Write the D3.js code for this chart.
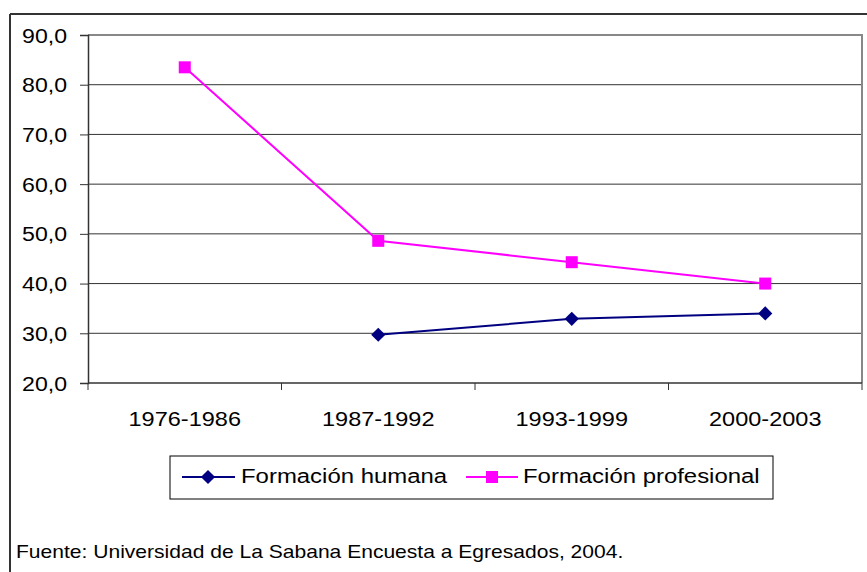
<!DOCTYPE html>
<html>
<head>
    <meta charset="utf-8">
    <title>Formación humana y profesional</title>
    <script src="https://d3js.org/d3.v7.min.js"></script>
    <style>
        html, body { margin: 0; padding: 0; background: #fff; }
        svg { display: block; font-family: "Liberation Sans", Arial, sans-serif; }
        .grid line { stroke: #333; stroke-width: 1px; }
        .tick-label { font-size: 21px; fill: #000; }
        .legend-label { font-size: 21px; fill: #000; }
        .source { font-size: 18px; fill: #000; }
    </style>
</head>
<body>
<svg width="867" height="572"></svg>
<script>
    // data
    let categories = ['1976-1986', '1987-1992', '1993-1999', '2000-2003'];
    let humana = [null, 29.7, 32.9, 34.0];
    let profesional = [83.5, 48.6, 44.3, 40.0];
    let yTicks = [20, 30, 40, 50, 60, 70, 80, 90];
    let seriesNames = ['Formación humana', 'Formación profesional'];
    let source = 'Fuente: Universidad de La Sabana Encuesta a Egresados, 2004.';

    let svg = d3.select('svg');
    let plot = {left: 88, right: 862, top: 35, bottom: 383};

    // text in the original is a bit wider than Arial, stretch it a little
    function label(parent, x, y, txt, cls, anchor, sx) {
        parent.append('text')
            .attr('class', cls)
            .attr('text-anchor', anchor)
            .attr('transform', `translate(${x},${y}) scale(${sx},1)`)
            .text(txt);
    }

    // outer frame (top and left edges visible)
    svg.append('line').attr('x1', 10).attr('x2', 867).attr('y1', 14).attr('y2', 14)
        .attr('stroke', '#333').attr('stroke-width', 2);
    svg.append('line').attr('x1', 10).attr('x2', 10).attr('y1', 14).attr('y2', 572)
        .attr('stroke', '#333').attr('stroke-width', 2);

    let x = d3.scaleBand().domain(categories).range([plot.left, plot.right]);
    let y = d3.scaleLinear().domain([20, 90]).range([plot.bottom, plot.top]);

    // gridlines
    svg.append('g').classed('grid', true)
        .selectAll('line')
        .data(yTicks.filter(d => d > 20 && d < 90))
        .join('line')
        .attr('x1', plot.left).attr('x2', plot.right)
        .attr('y1', d => y(d)).attr('y2', d => y(d));

    // plot area border (top and right gray)
    svg.append('line').attr('x1', plot.left).attr('x2', plot.right)
        .attr('y1', y(90)).attr('y2', y(90)).attr('stroke', '#888').attr('stroke-width', 2);
    svg.append('line').attr('x1', plot.right).attr('x2', plot.right)
        .attr('y1', y(90) - 1).attr('y2', plot.bottom).attr('stroke', '#888').attr('stroke-width', 2);

    // y axis
    let yAxis = svg.append('g')
        .attr('transform', `translate(${plot.left},0)`)
        .call(d3.axisLeft(y).tickValues(yTicks).tickSize(8).tickFormat(''));
    yAxis.select('.domain').attr('stroke', '#333').attr('stroke-width', 1.5);
    yAxis.selectAll('.tick line').attr('stroke', '#333');
    let fmt = d => d3.format('.1f')(d).replace('.', ',');
    let yLabels = svg.append('g');
    yTicks.forEach(t => label(yLabels, 67, y(t) + 7.5, fmt(t), 'tick-label', 'end', 1.1));

    // x axis: ticks at band boundaries
    let xAxisG = svg.append('g').attr('transform', `translate(0,${plot.bottom})`);
    xAxisG.append('line').attr('x1', plot.left).attr('x2', plot.right)
        .attr('stroke', '#333').attr('stroke-width', 1.5);
    let bounds = categories.map(c => x(c)).concat([plot.right]);
    xAxisG.selectAll('.xt').data(bounds).join('line').classed('xt', true)
        .attr('x1', d => d).attr('x2', d => d).attr('y1', 0).attr('y2', 7)
        .attr('stroke', '#333');
    categories.forEach(c => label(xAxisG, x(c) + x.bandwidth() / 2, 43, c, 'tick-label', 'middle', 1.12));

    let cx = (d, i) => x(categories[i]) + x.bandwidth() / 2;
    let line = d3.line().defined(d => d != null).x(cx).y(d => y(d));

    svg.append('path').datum(humana).attr('d', line)
        .attr('fill', 'none').attr('stroke', '#000080').attr('stroke-width', 2);
    svg.append('path').datum(profesional).attr('d', line)
        .attr('fill', 'none').attr('stroke', '#ff00ff').attr('stroke-width', 2);

    let diamond = d3.symbol().type(d3.symbolSquare).size(100);
    svg.selectAll('.m-h').data(humana.map((v, i) => ({v, i})).filter(d => d.v != null))
        .join('path').classed('m-h', true)
        .attr('d', diamond)
        .attr('transform', d => `translate(${cx(d.v, d.i)},${y(d.v)}) rotate(45)`)
        .attr('fill', '#000080');
    svg.selectAll('.m-p').data(profesional.map((v, i) => ({v, i})))
        .join('rect').classed('m-p', true)
        .attr('x', d => cx(d.v, d.i) - 6).attr('y', d => y(d.v) - 6)
        .attr('width', 12).attr('height', 12)
        .attr('fill', '#ff00ff');

    // legend
    let legend = svg.append('g');
    legend.append('rect').attr('x', 170).attr('y', 456).attr('width', 603).attr('height', 43)
        .attr('fill', 'none').attr('stroke', '#000').attr('stroke-width', 1);
    let ly = 477;
    legend.append('line').attr('x1', 182).attr('x2', 235).attr('y1', ly).attr('y2', ly)
        .attr('stroke', '#000080').attr('stroke-width', 2);
    legend.append('path').attr('d', diamond)
        .attr('transform', `translate(208,${ly}) rotate(45)`).attr('fill', '#000080');
    label(legend, 241, ly + 6, seriesNames[0], 'legend-label', 'start', 1.14);
    legend.append('line').attr('x1', 466).attr('x2', 518).attr('y1', ly).attr('y2', ly)
        .attr('stroke', '#ff00ff').attr('stroke-width', 2);
    legend.append('rect').attr('x', 486).attr('y', ly - 6).attr('width', 12).attr('height', 12)
        .attr('fill', '#ff00ff');
    label(legend, 523, ly + 6, seriesNames[1], 'legend-label', 'start', 1.14);

    // source note
    label(svg, 16, 558, source, 'source', 'start', 1.17);
</script>
</body>
</html>
